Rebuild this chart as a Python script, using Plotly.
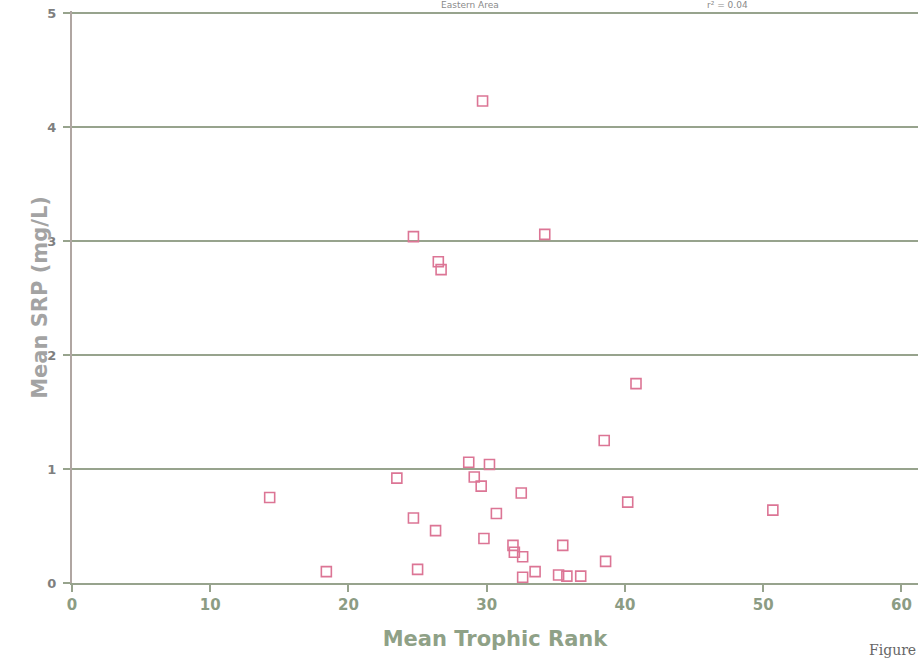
import plotly.graph_objects as go

# Mean Trophic Rank (x) and Mean SRP mg/L (y)
trophic_rank = [29.7, 24.7, 34.2, 26.5, 26.7, 40.8, 38.5, 28.7, 30.2, 23.5,
                29.1, 29.6, 32.5, 14.3, 40.2, 30.7, 50.7, 24.7, 26.3, 29.8,
                35.5, 31.9, 32.0, 32.6, 38.6, 18.4, 25.0, 33.5, 32.6, 35.2,
                35.8, 36.8]
mean_srp = [4.23, 3.04, 3.06, 2.82, 2.75, 1.75, 1.25, 1.06, 1.04, 0.92,
            0.93, 0.85, 0.79, 0.75, 0.71, 0.61, 0.64, 0.57, 0.46, 0.39,
            0.33, 0.33, 0.27, 0.23, 0.19, 0.10, 0.12, 0.10, 0.05, 0.07,
            0.06, 0.06]

x_ticks = [0, 10, 20, 30, 40, 50, 60]
y_ticks = [0, 1, 2, 3, 4, 5]

grid_col = "#97a38d"
fig = go.Figure()
fig.add_trace(go.Scatter(
    x=trophic_rank, y=mean_srp, mode="markers",
    marker=dict(symbol="square-open", size=10, color="#dc7595",
                line=dict(width=1.6, color="#dc7595")),
    showlegend=False, hoverinfo="x+y"))

fig.update_layout(
    width=918, height=660,
    margin=dict(l=72, r=0, t=11, b=77),
    paper_bgcolor="white", plot_bgcolor="white",
    font=dict(family="DejaVu Sans, sans-serif"),
    xaxis=dict(range=[0, 61.2], tickvals=x_ticks,
               ticktext=["<b>%d</b>" % v for v in x_ticks], automargin=False,
               showgrid=False, zeroline=False, showline=True, linecolor=grid_col,
               linewidth=2, ticks="outside", ticklen=7, tickwidth=2, tickcolor=grid_col,
               tickfont=dict(size=15, color="#8c9c84", family="DejaVu Sans, sans-serif"),
               title=dict(text="<b>Mean Trophic Rank</b>",
                          font=dict(size=21, color="#8fa187", family="DejaVu Sans, sans-serif"),
                          standoff=18)),
    yaxis=dict(range=[0, 5.02], tickvals=y_ticks,
               ticktext=["<b>%d</b>" % v for v in y_ticks], automargin=False,
               showgrid=True, gridcolor=grid_col, gridwidth=2,
               zeroline=False, showline=True, linecolor="#b0a6a2", linewidth=2,
               ticks="outside", ticklen=7, tickwidth=2, tickcolor=grid_col,
               ticklabelstandoff=4,
               tickfont=dict(size=13, color="#7f7f7f", family="DejaVu Sans, sans-serif")),
    annotations=[
        dict(text="<b>Mean SRP (mg/L)</b>", xref="paper", yref="paper",
             x=-0.038, y=0.5, xanchor="center", yanchor="middle", textangle=-90,
             showarrow=False,
             font=dict(size=21, color="#a3a3a3", family="DejaVu Sans, sans-serif")),
        dict(text="Eastern Area", xref="paper", yref="paper", x=0.47, y=1.0,
             xanchor="center", yanchor="top", yshift=13, showarrow=False,
             font=dict(size=9, color="#8a8a8a", family="DejaVu Sans, sans-serif")),
        dict(text="r² = 0.04", xref="paper", yref="paper", x=0.775, y=1.0,
             xanchor="center", yanchor="top", yshift=13, showarrow=False,
             font=dict(size=9, color="#8a8a8a", family="DejaVu Sans, sans-serif")),
        dict(text="Figure", xref="paper", yref="paper", x=1.0, y=0.0,
             xanchor="right", yanchor="top", yshift=-57, showarrow=False,
             font=dict(size=14, color="#666666", family="DejaVu Serif, serif")),
    ],
)

fig.write_html("out.html", config={"displayModeBar": False},
               post_script="document.body.style.margin='0';document.body.style.overflow='hidden';")
